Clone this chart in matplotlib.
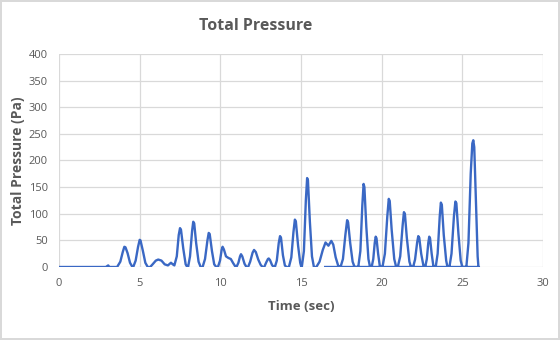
import matplotlib
matplotlib.use("Agg")
from matplotlib import pyplot as plt

# 시간(초) / 전체 압력(Pa) 측정값
time_s = [
    0.0, 2.9, 3.0, 3.05, 3.12, 3.6,
    3.8, 3.95, 4.05, 4.12, 4.25, 4.4, 4.55,
    4.6, 4.75, 4.9, 5.0, 5.05, 5.2, 5.35, 5.5,
    5.65, 5.8, 6.0, 6.15, 6.35, 6.55, 6.75, 6.94, 7.05, 7.15,
    7.3, 7.42, 7.5, 7.56, 7.7, 7.85, 7.95,
    8.0, 8.12, 8.25, 8.32, 8.38, 8.5, 8.65, 8.78,
    8.9, 9.05, 9.2, 9.28, 9.34, 9.48, 9.62, 9.75,
    9.85, 9.98, 10.08, 10.14, 10.22, 10.35, 10.5, 10.65, 10.8, 10.95,
    11.0, 11.12, 11.22, 11.28, 11.36, 11.5, 11.62,
    11.72, 11.85, 12.0, 12.09, 12.2, 12.35, 12.5, 12.62,
    12.72, 12.85, 12.95, 13.0, 13.08, 13.2, 13.3,
    13.38, 13.5, 13.62, 13.7, 13.76, 13.88, 14.0, 14.1,
    14.25, 14.4, 14.53, 14.62, 14.68, 14.82, 14.95, 15.02,
    15.05, 15.18, 15.3, 15.38, 15.43, 15.55, 15.68, 15.8,
    15.95, 16.15, 16.35, 16.52, 16.7, 16.88, 17.0, 17.15, 17.3, 17.4,
    17.45, 17.6, 17.75, 17.86, 17.92, 18.05, 18.2, 18.32,
    18.55, 18.68, 18.8, 18.88, 18.93, 19.05, 19.18, 19.28,
    19.38, 19.48, 19.57, 19.63, 19.68, 19.78, 19.88, 19.95,
    20.05, 20.2, 20.35, 20.44, 20.5, 20.62, 20.78, 20.9,
    21.0, 21.15, 21.3, 21.38, 21.44, 21.56, 21.72, 21.82,
    21.95, 22.07, 22.2, 22.27, 22.33, 22.45, 22.58, 22.65,
    22.7, 22.8, 22.89, 22.95, 23.0, 23.1, 23.2, 23.27,
    23.35, 23.47, 23.6, 23.67, 23.73, 23.85, 24.0, 24.08,
    24.2, 24.33, 24.48, 24.57, 24.63, 24.76, 24.9, 25.0,
    25.25, 25.38, 25.52, 25.62, 25.68, 25.74, 25.85, 25.95, 26.0, 26.03,
    16.5,
]
pressure_pa = [
    0, 0, 2, 3, 0, 0,
    10, 28, 38, 37, 26, 8, 0,
    0, 12, 38, 51, 50, 30, 8, 0,
    0, 5, 12, 14, 12, 5, 3, 8, 5, 3,
    20, 60, 73, 70, 35, 5, 0,
    0, 20, 68, 85, 82, 45, 10, 0,
    0, 15, 50, 64, 62, 30, 5, 0,
    0, 12, 32, 38, 33, 20, 17, 15, 7, 0,
    0, 8, 20, 24, 20, 6, 0,
    0, 10, 27, 32, 28, 14, 4, 0,
    0, 9, 15, 16, 13, 4, 0,
    0, 12, 45, 58, 55, 22, 3, 0,
    0, 18, 65, 89, 86, 40, 8, 0,
    0, 30, 125, 167, 163, 85, 20, 0,
    0, 10, 32, 46, 40, 49, 42, 18, 3, 0,
    0, 15, 60, 88, 84, 45, 10, 0,
    0, 30, 115, 156, 150, 75, 15, 0,
    0, 15, 45, 57, 54, 25, 3, 0,
    0, 25, 95, 128, 124, 70, 15, 0,
    0, 20, 78, 103, 100, 55, 10, 0,
    0, 14, 46, 58, 55, 25, 4, 0,
    0, 15, 45, 57, 54, 25, 3, 0,
    0, 25, 95, 121, 117, 60, 12, 0,
    0, 25, 95, 123, 120, 62, 12, 0,
    0, 45, 175, 232, 238, 225, 120, 20, 0, 0,
    0,
]

x_ticks = [0, 5, 10, 15, 20, 25, 30]
y_ticks = [0, 50, 100, 150, 200, 250, 300, 350, 400]

txt = "#595959"
plt.rcParams["font.family"] = ["Open Sans", "DejaVu Sans"]

fig = plt.figure(figsize=(5.6, 3.4), dpi=100)
fig.patch.set_edgecolor("#d9d9d9")
fig.patch.set_linewidth(1.5)
ax = fig.add_axes([0.1054, 0.2147, 0.8642, 0.6265])

ax.plot(time_s, pressure_pa, color="#3a68c4", lw=1.7, solid_joinstyle="round")

ax.set_xlim(0, 30)
ax.set_ylim(0, 400)
ax.set_xticks(x_ticks)
ax.set_yticks(y_ticks)
ax.grid(True, color="#d9d9d9", lw=0.9)
ax.set_axisbelow(True)
for s in ax.spines.values():
    s.set_visible(False)
ax.tick_params(length=0, labelsize=8, labelcolor=txt)
ax.tick_params(axis="y", pad=8)
ax.tick_params(axis="x", pad=8)

# 차트 제목은 그림 영역 기준으로 배치
fig.text(256 / 560, 1 - 26 / 340, "Total Pressure", fontsize=11.5,
         fontweight="bold", color=txt, ha="center", va="center")
ax.set_xlabel("Time (sec)", fontsize=9.5, fontweight="bold", color=txt, labelpad=8)
ax.set_ylabel("Total Pressure (Pa)", fontsize=10, fontweight="bold", color=txt, labelpad=3)

fig.savefig("out.png", dpi=100, edgecolor=fig.get_edgecolor())
